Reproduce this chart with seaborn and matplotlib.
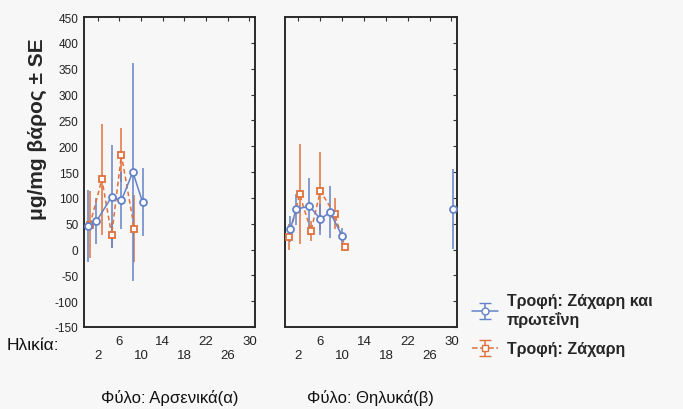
import numpy as np
import pandas as pd
import matplotlib
matplotlib.use("Agg")
import matplotlib.pyplot as plt
import seaborn as sns

# ---- data ----
ticks = [2, 6, 10, 14, 18, 22, 26, 30]
tick_labels = ["\n2", "6", "\n10", "14", "\n18", "22", "\n26", "30"]

series_names = ["Τροφή: Ζάχαρη και\nπρωτεΐνη", "Τροφή: Ζάχαρη"]

# Male panel (α)
m_sp_age = [0.3, 1.8, 4.6, 6.4, 8.5, 10.3]
m_sp_val = [45, 55, 102, 95, 150, 92]
m_sp_err = [70, 45, 100, 55, 211, 65]

m_s_age = [0.6, 2.8, 4.6, 6.4, 8.8]
m_s_val = [48, 136, 28, 183, 40]
m_s_err = [65, 107, 25, 52, 65]

# Female panel (β)
f_sp_age = [0.5, 1.6, 4.0, 6.0, 7.8, 10.0]
f_sp_val = [40, 78, 84, 59, 72, 26]
f_sp_err = [25, 30, 55, 30, 50, 15]
f_sp_iso_age = [30.2]
f_sp_iso_val = [78]
f_sp_iso_err = [77]

f_s_age = [0.3, 2.2, 4.3, 6.0, 8.6, 10.5]
f_s_val = [24, 107, 36, 113, 69, 5]
f_s_err = [25, 97, 20, 75, 30, 8]

yticks = list(range(-150, 451, 50))

# ---- style ----
sns.set_style("white")
plt.rcParams["font.family"] = ["Liberation Sans", "DejaVu Sans"]
BG = "#f7f7f7"
BLUE = "#6482c8"
ORANGE = "#e0713c"

fig = plt.figure(figsize=(6.83, 4.10), dpi=100, facecolor=BG)
axL = fig.add_axes([0.123, 0.200, 0.250, 0.756])
axR = fig.add_axes([0.417, 0.200, 0.252, 0.756])


def draw(ax, age, val, err, color, marker, ls, lw=1.1):
    df = pd.DataFrame({"age": age, "val": val})
    ax.errorbar(age, val, yerr=err, fmt="none", ecolor=color, elinewidth=1.1,
                capsize=0, zorder=2)
    sns.lineplot(data=df, x="age", y="val", ax=ax, color=color, linestyle=ls,
                 linewidth=lw, marker=marker, markersize=5, markerfacecolor="white",
                 markeredgecolor=color, markeredgewidth=1.3, zorder=3,
                 estimator=None, sort=False)


draw(axL, m_s_age, m_s_val, m_s_err, ORANGE, "s", (0, (3, 2)))
draw(axL, m_sp_age, m_sp_val, m_sp_err, BLUE, "o", "-")
draw(axR, f_s_age, f_s_val, f_s_err, ORANGE, "s", (0, (3, 2)))
draw(axR, f_sp_age, f_sp_val, f_sp_err, BLUE, "o", "-")
axR.errorbar(f_sp_iso_age, f_sp_iso_val, yerr=f_sp_iso_err, fmt="none",
             ecolor=BLUE, elinewidth=1.1, capsize=0, zorder=2)
sns.scatterplot(x=f_sp_iso_age, y=f_sp_iso_val, ax=axR, marker="o", s=25,
                facecolor="white", edgecolor=BLUE, linewidth=1.3, zorder=3)

for ax in (axL, axR):
    ax.set_facecolor(BG)
    ax.set_xlim(-0.5, 31)
    ax.set_ylim(-150, 450)
    ax.set_xticks(ticks)
    ax.set_xticklabels(tick_labels, fontsize=9.5, color="#222222")
    ax.set_yticks(yticks)
    ax.set_xlabel("")
    ax.set_ylabel("")
    ax.tick_params(axis="both", direction="in", length=3, width=0.8,
                   top=True, right=True, colors="#333333", pad=6)
    ax.tick_params(axis="x", labelcolor="#222222")
    for s in ax.spines.values():
        s.set_visible(True)
        s.set_color("#2a2a2a")
        s.set_linewidth(1.4)
    if ax.get_legend():
        ax.get_legend().remove()

axL.set_yticklabels([str(v) for v in yticks], fontsize=8.5, color="#222222")
axL.tick_params(axis="y", labelcolor="#222222", pad=4)
axR.set_yticklabels([])

axL.set_ylabel("μg/mg βάρος ± SE", fontsize=15, fontweight="bold")
axL.yaxis.set_label_coords(-0.215, 0.64)

fig.text(0.010, 0.158, "Ηλικία:", fontsize=12.5, ha="left", va="center", color="#111111")
fig.text(0.248, 0.030, "Φύλο: Αρσενικά(α)", fontsize=12, ha="center", va="center", color="#111111")
fig.text(0.542, 0.030, "Φύλο: Θηλυκά(β)", fontsize=12, ha="center", va="center", color="#111111")

# legend
h1 = axL.errorbar([np.nan], [np.nan], yerr=[1], color=BLUE, marker="o", mfc="white",
                  mec=BLUE, ms=5, lw=1.1, capsize=4)
h2 = axL.errorbar([np.nan], [np.nan], yerr=[1], color=ORANGE, marker="s", mfc="white",
                  mec=ORANGE, ms=5, lw=1.1, ls="--", capsize=4)
fig.legend([h1, h2], series_names, loc="center left", bbox_to_anchor=(0.67, 0.205),
           frameon=False, prop={"weight": "bold", "size": 11.5}, handlelength=1.6,
           handletextpad=0.6, labelspacing=0.9)

fig.savefig("out.png", dpi=100, facecolor=BG)
